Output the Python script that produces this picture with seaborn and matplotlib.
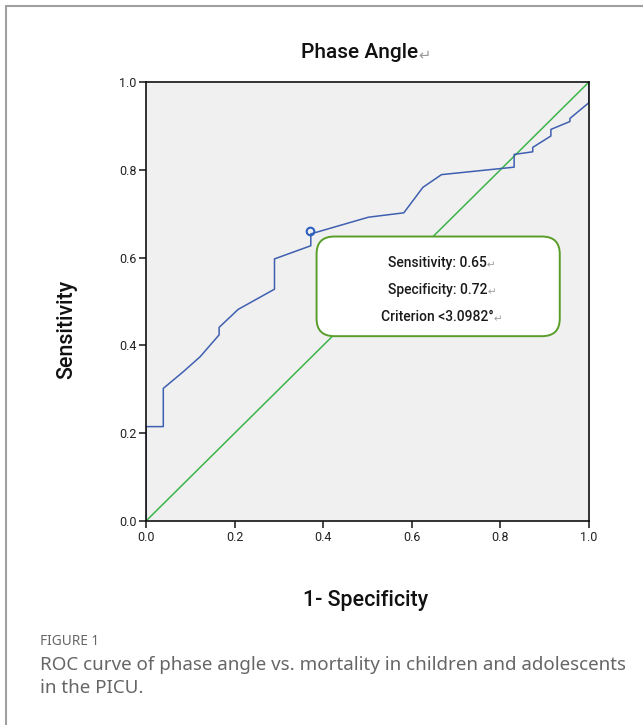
import numpy as np
import pandas as pd
import seaborn as sns
import matplotlib.pyplot as plt
from matplotlib.patches import FancyBboxPatch

# ROC curve points (1-specificity, sensitivity)
fpr = [0.0, 0.0, 0.039, 0.039, 0.084, 0.122, 0.165, 0.165, 0.208, 0.290, 0.290,
       0.372, 0.372, 0.502, 0.582, 0.625, 0.667, 0.831, 0.831, 0.873, 0.873,
       0.914, 0.914, 0.957, 0.957, 1.0, 1.0]
tpr = [0.0, 0.215, 0.215, 0.302, 0.340, 0.374, 0.424, 0.441, 0.482, 0.528, 0.597,
       0.627, 0.654, 0.692, 0.702, 0.760, 0.789, 0.806, 0.835, 0.841, 0.851,
       0.877, 0.892, 0.910, 0.917, 0.953, 1.0]
ref_line = [0.0, 1.0]
cut_point = (0.37, 0.66)
box_lines = ["Sensitivity: 0.65", "Specificity: 0.72", "Criterion <3.0982°"]
ticks = [0.0, 0.2, 0.4, 0.6, 0.8, 1.0]

sns.set_style("ticks")
plt.rcParams['font.family'] = ['Roboto', 'DejaVu Sans']
caption_font = ['Noto Sans', 'DejaVu Sans']

roc = pd.DataFrame({'fpr': fpr, 'tpr': tpr})
ref = pd.DataFrame({'x': ref_line, 'y': ref_line})

fig = plt.figure(figsize=(6.43, 7.25), dpi=100)
ax = fig.add_axes([0.2271, 0.2814, 0.6889, 0.6055])
ax.set_facecolor('#f0f0f0')

sns.lineplot(data=ref, x='x', y='y', ax=ax, color='#3cb44b', lw=1.1,
             estimator=None, sort=False)
sns.lineplot(data=roc, x='fpr', y='tpr', ax=ax, color='#3f5fb0', lw=1.1,
             estimator=None, sort=False)
ax.plot(*cut_point, 'o', ms=5.5, mfc='none', mec='#2f5fc0', mew=1.5)

ax.set_xlim(0, 1)
ax.set_ylim(0, 1)
ax.set_xticks(ticks)
ax.set_yticks(ticks)
ax.set_xticklabels([f'{t:.1f}' for t in ticks])
ax.set_yticklabels([f'{t:.1f}' for t in ticks])
ax.tick_params(direction='out', length=5, width=1.2, labelsize=9, pad=2,
               labelcolor='#222222')
for s in ax.spines.values():
    s.set_visible(True)
    s.set_color('#111111')
    s.set_linewidth(1.2)
ax.set_xlabel('')
ax.set_ylabel('')

# info box
box = FancyBboxPatch((0.385, 0.421), 0.549, 0.227,
                     boxstyle='round,pad=0,rounding_size=0.04',
                     transform=ax.transAxes, fc='white', ec='#5a9e2a', lw=1.4,
                     zorder=5)
ax.add_patch(box)

arrow_kw = dict(xy=(1, 0), va='bottom', ha='left', color='#9a9a9a')
for i, line in enumerate(box_lines):
    t = ax.text(0.658, 0.588 - i * 0.0615, line, transform=ax.transAxes,
                ha='center', va='center', fontsize=10, fontweight='medium',
                color='#1a1a1a', zorder=6)
    ax.annotate('↵', xycoords=t, fontsize=7.5, zorder=6, **arrow_kw)

# title and axis labels
t = fig.text(0.559, 0.927, 'Phase Angle', ha='center', va='center',
             fontsize=15, fontweight='medium', color='#111111')
ax.annotate('↵', xycoords=t, fontsize=10.5, **arrow_kw)

fig.text(0.568, 0.172, '1- Specificity', ha='center', va='center',
         fontsize=15.5, fontweight='medium', color='#111111')
fig.text(0.104, 0.545, 'Sensitivity', ha='center', va='center', rotation=90,
         fontsize=15.5, fontweight='medium', color='#111111')

# caption
fig.text(0.062, 0.115, 'FIGURE 1', ha='left', va='center', fontsize=9.8,
         color='#666666', family=caption_font, fontweight='medium')
fig.text(0.062, 0.083, 'ROC curve of phase angle vs. mortality in children and adolescents',
         ha='left', va='center', fontsize=13.5, color='#666666',
         family=caption_font)
fig.text(0.062, 0.051, 'in the PICU.', ha='left', va='center', fontsize=13.5,
         color='#666666', family=caption_font)

# outer frame lines (top and left)
fig.add_artist(plt.Line2D([0.009, 1.0], [0.992, 0.992], color='#a0a0a0', lw=1.5))
fig.add_artist(plt.Line2D([0.009, 0.009], [0.0, 0.992], color='#a0a0a0', lw=1.5))

fig.savefig('out.png', dpi=100)
